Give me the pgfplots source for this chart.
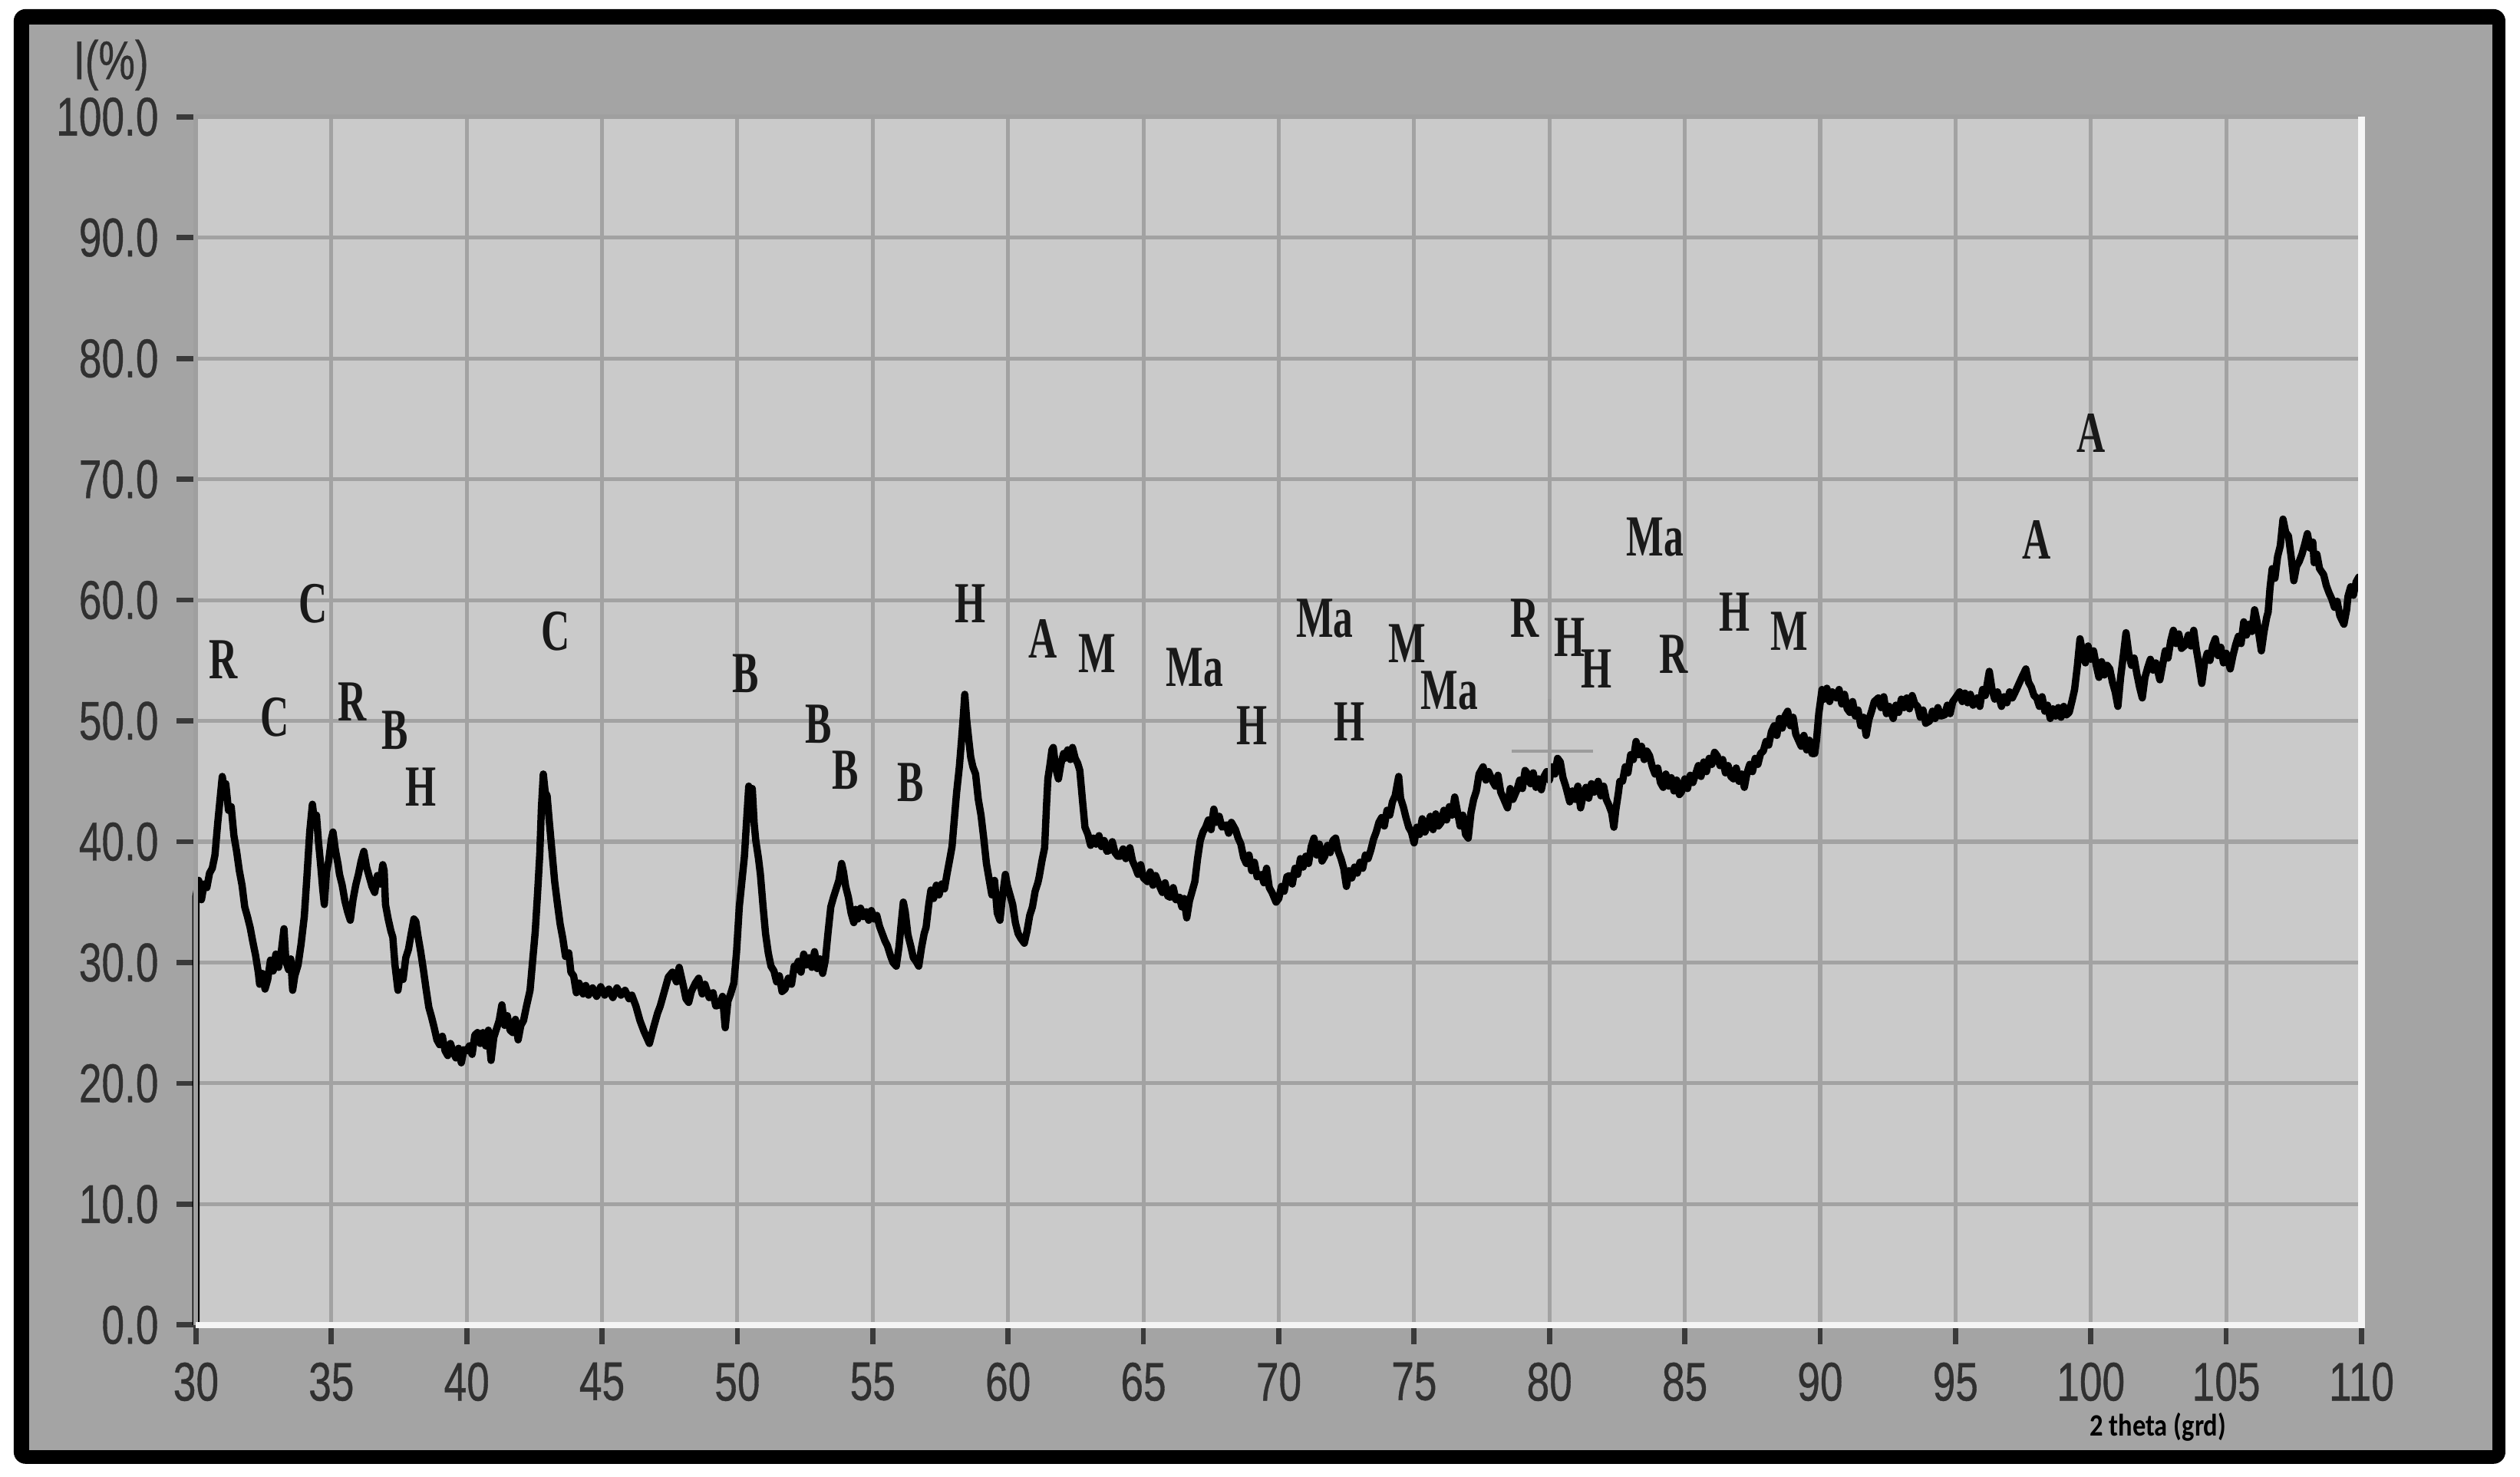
\documentclass[border=0pt]{standalone}
\usepackage{pgfplots}
\pgfplotsset{compat=1.18}
\usepackage{fontspec}
\setmainfont{Liberation Sans}
\newfontfamily\ticksfont[FakeStretch=0.75,FakeBold=0.5]{Liberation Sans}
\newfontfamily\peakfont[FakeStretch=0.68]{Liberation Serif}
\newfontfamily\captfont[FakeStretch=0.85]{Carlito}

\definecolor{framegray}{HTML}{A4A4A4}
\definecolor{plotgray}{HTML}{CACACA}
\definecolor{gridgray}{HTML}{A2A2A2}
\definecolor{tickgray}{HTML}{3A3A3A}
\definecolor{labelgray}{HTML}{303030}
\definecolor{crossgray}{HTML}{9C9C9C}

\newcommand{\pk}[3]{\node[font=\peakfont\bfseries\fontsize{11.2}{12}\selectfont, text=black!90, inner sep=0pt] at (axis cs:#1,#2) {#3};}

\begin{document}
\begin{tikzpicture}
% page, black frame and panel
\fill[white] (-1.327,-1.029) rectangle (15.733,8.971);
\fill[black, rounded corners=0.08cm] (-1.234,-0.940) rectangle (15.634,8.909);
\fill[framegray] (-1.130,-0.847) rectangle (15.545,8.805);

\begin{axis}[
    scale only axis,
    width=14.66cm, height=8.18cm,
    at={(0,0)}, anchor=south west,
    xmin=30, xmax=110, ymin=0, ymax=100,
    xtick={30,35,...,110}, ytick={0,10,...,100},
    grid=major,
    grid style={gridgray, line width=0.75pt},
    axis background/.style={fill=plotgray},
    axis line style={draw=none},
    tick pos=left,
    tick align=outside,
    major tick length=0.13cm,
    tick style={tickgray, line width=1pt},
    ticklabel style={font=\ticksfont\fontsize{10.5}{12}\selectfont, text=labelgray},
    /pgf/number format/assume math mode=true,
    yticklabel={\pgfmathprintnumber[fixed,fixed zerofill,precision=1]{\tick}},
    clip=false,
]
\addplot[black, line width=1.4pt, line join=round] coordinates {
(30,0) (30,35.5) (30.1,36.8) (30.2,35.2) (30.3,36.5) (30.4,36.2) (30.5,37.4) (30.6,37.8) (30.7,38.9) (30.8,41.5) (30.9,43.8) (30.97,45.4) (31.05,44.2) (31.1,44.8) (31.2,42.6) (31.3,42.9) (31.4,40.5) (31.5,39.2) (31.6,37.6) (31.7,36.4) (31.8,34.6) (31.9,33.8) (32.0,32.9) (32.1,31.7) (32.2,30.6) (32.3,29.2) (32.35,28.2) (32.45,29.1) (32.55,27.8) (32.65,28.6) (32.75,30.2) (32.85,29.3) (32.95,30.7) (33.05,29.6) (33.15,30.9) (33.25,32.8) (33.32,30.1) (33.42,29.4) (33.5,30.3) (33.57,27.7) (33.65,28.9) (33.77,29.8) (33.88,31.5) (34.0,33.8) (34.1,37.2) (34.2,40.8) (34.3,43.1) (34.38,41.6) (34.45,42.2) (34.52,40.1) (34.6,38.2) (34.68,36.1) (34.74,34.8) (34.82,37.5) (34.9,38.4) (35.0,40.2) (35.06,40.8) (35.15,39.3) (35.25,38.1) (35.3,37.3) (35.4,36.4) (35.5,35.1) (35.6,34.2) (35.7,33.5) (35.8,35.2) (35.9,36.4) (36.0,37.3) (36.1,38.4) (36.2,39.2) (36.3,37.9) (36.4,37.1) (36.5,36.3) (36.6,35.8) (36.7,37.2) (36.8,36.5) (36.9,38.1) (36.95,37.6) (37.0,34.8) (37.1,33.6) (37.2,32.6) (37.27,32.1) (37.35,29.8) (37.46,27.7) (37.55,29.2) (37.65,28.6) (37.75,30.4) (37.85,31.1) (37.95,32.4) (38.05,33.6) (38.12,33.4) (38.2,32.2) (38.3,30.9) (38.4,29.4) (38.5,27.8) (38.6,26.3) (38.7,25.5) (38.8,24.6) (38.9,23.6) (39.0,23.2) (39.1,23.9) (39.2,22.7) (39.3,22.3) (39.4,23.3) (39.5,22.6) (39.6,22.1) (39.7,22.9) (39.8,21.7) (39.9,22.8) (40.0,22.7) (40.1,23.1) (40.2,22.4) (40.3,24.0) (40.4,24.2) (40.5,23.3) (40.6,24.2) (40.7,23.1) (40.8,24.4) (40.9,21.9) (41.0,23.8) (41.1,24.5) (41.2,25.2) (41.3,26.5) (41.4,24.8) (41.5,25.6) (41.6,24.4) (41.7,24.2) (41.8,25.3) (41.9,23.6) (42.0,24.8) (42.1,25.2) (42.2,26.3) (42.34,27.7) (42.45,30.5) (42.53,32.5) (42.62,35.8) (42.7,39.0) (42.76,42.8) (42.83,45.6) (42.9,44.1) (42.97,43.8) (43.05,41.7) (43.15,39.2) (43.25,36.7) (43.35,34.9) (43.45,33.2) (43.55,32.0) (43.65,30.5) (43.77,30.8) (43.85,29.2) (43.95,28.9) (44.05,27.5) (44.15,28.3) (44.3,27.4) (44.4,28.1) (44.5,27.3) (44.65,27.9) (44.8,27.2) (44.95,28.0) (45.1,27.3) (45.25,27.8) (45.4,27.1) (45.55,27.9) (45.7,27.3) (45.85,27.7) (46.0,27.0) (46.1,27.3) (46.25,26.4) (46.4,25.2) (46.55,24.3) (46.75,23.3) (46.9,24.6) (47.05,25.8) (47.15,26.4) (47.3,27.6) (47.45,28.8) (47.6,29.2) (47.75,28.4) (47.85,29.6) (48.0,28.1) (48.1,27.0) (48.2,26.7) (48.3,27.6) (48.45,28.3) (48.57,28.7) (48.7,27.4) (48.8,28.2) (48.96,27.1) (49.1,27.5) (49.2,26.4) (49.35,26.5) (49.45,27.2) (49.55,24.6) (49.65,26.8) (49.75,27.4) (49.87,28.3) (49.97,30.9) (50.07,34.6)
(50.17,36.8) (50.26,38.8) (50.35,42.1) (50.42,44.6) (50.48,43.8) (50.55,44.4) (50.62,41.5) (50.68,40.1) (50.78,38.6) (50.85,37.3) (50.95,34.6) (51.04,32.4) (51.14,30.8) (51.24,29.7) (51.35,29.3) (51.45,28.4) (51.55,28.9) (51.65,27.6) (51.76,27.8) (51.88,28.7) (52.0,28.2) (52.1,29.7) (52.15,29.4) (52.25,30.1) (52.35,29.2) (52.45,30.7) (52.55,29.8) (52.65,30.4) (52.75,29.6) (52.85,30.9) (52.95,29.5) (53.05,30.3) (53.15,29.1) (53.25,30.2) (53.35,32.5) (53.45,34.6) (53.55,35.4) (53.65,36.1) (53.75,36.8) (53.85,38.2) (53.92,37.5) (54.0,36.3) (54.1,35.4) (54.2,34.1) (54.3,33.3) (54.37,34.4) (54.45,33.6) (54.55,34.5) (54.65,33.8) (54.76,34.2) (54.85,33.5) (54.95,34.3) (55.05,33.6) (55.15,33.9) (55.25,33.0) (55.35,32.4) (55.45,31.8) (55.54,31.4) (55.65,30.6) (55.75,30.0) (55.87,29.7) (55.97,31.3) (56.05,33.2) (56.13,35.0) (56.2,34.2) (56.3,32.3) (56.4,31.4) (56.5,30.4) (56.6,30.1) (56.7,29.7) (56.8,31.2) (56.9,32.4) (56.97,32.9) (57.07,34.8) (57.15,36.0) (57.25,35.3) (57.35,36.4) (57.45,35.6) (57.55,36.5) (57.65,36.1) (57.75,37.4) (57.85,38.6) (57.93,39.6) (58.02,42.0) (58.1,44.1) (58.2,46.2) (58.28,48.4) (58.35,50.5) (58.4,52.2) (58.47,50.1) (58.55,48.4) (58.62,47.0) (58.7,46.2) (58.8,45.6) (58.9,43.5) (59.0,42.2) (59.1,40.3) (59.2,38.2) (59.3,36.9) (59.4,35.6) (59.5,36.8) (59.6,34.1) (59.7,33.5) (59.8,35.6) (59.9,37.3) (59.97,36.4) (60.07,35.6) (60.17,34.8) (60.27,33.3) (60.37,32.4) (60.47,32.0) (60.6,31.6) (60.7,32.6) (60.8,33.9) (60.9,34.6) (61.0,35.9) (61.1,36.6) (61.15,37.1) (61.25,38.4) (61.35,39.5) (61.42,43.0) (61.47,45.2) (61.55,46.4) (61.62,47.6) (61.67,47.8) (61.76,46.1) (61.86,45.2) (61.95,46.4) (62.05,47.3) (62.1,46.9) (62.2,47.6) (62.3,46.8) (62.38,47.8) (62.48,46.9) (62.57,46.5) (62.65,45.9) (62.75,43.4) (62.84,41.2) (62.95,40.6) (63.05,39.7) (63.15,40.3) (63.25,39.8) (63.36,40.5) (63.45,39.6) (63.55,40.1) (63.65,39.2) (63.75,39.3) (63.85,40.0) (63.95,39.1) (64.05,38.8) (64.15,38.8) (64.25,39.4) (64.35,38.6) (64.5,39.5) (64.6,38.4) (64.7,37.9) (64.8,37.3) (64.9,38.1) (65.0,37.0) (65.15,36.7) (65.25,37.5) (65.35,36.4) (65.45,37.2) (65.6,36.3) (65.7,35.8) (65.8,36.6) (65.9,35.5) (66.0,35.4) (66.1,36.2) (66.2,35.2) (66.33,35.4) (66.42,34.6) (66.5,35.3) (66.6,33.7) (66.7,35.1) (66.8,35.9) (66.9,36.7) (67.0,38.6) (67.1,40.1) (67.2,40.8) (67.3,41.2) (67.4,41.8) (67.5,41.0) (67.6,42.7) (67.7,41.6) (67.8,42.1) (67.9,41.2) (68.06,41.4) (68.15,40.7) (68.25,41.6) (68.4,41.0) (68.5,40.3) (68.6,39.8) (68.7,38.7) (68.8,38.2) (68.9,38.9) (69.0,37.6) (69.1,38.3) (69.2,37.1) (69.36,37.3) (69.45,36.6) (69.55,37.8) (69.65,36.2) (69.75,35.8) (69.9,35.0)
(70.0,35.3) (70.1,36.3) (70.2,35.9) (70.3,37.1) (70.4,37.2) (70.5,36.5) (70.6,37.8) (70.7,37.3) (70.8,38.6) (70.9,37.9) (71.0,38.8) (71.1,38.2) (71.2,39.6) (71.3,40.3) (71.4,38.9) (71.5,39.8) (71.6,38.4) (71.7,38.8) (71.8,39.7) (71.9,39.1) (72.0,40.1) (72.1,40.3) (72.2,39.2) (72.3,38.6) (72.4,37.8) (72.5,36.3) (72.6,37.6) (72.7,37.0) (72.8,37.9) (72.9,37.4) (73.0,38.3) (73.1,37.8) (73.2,38.9) (73.3,38.6) (73.4,39.3) (73.5,40.2) (73.6,40.8) (73.7,41.6) (73.8,42.0) (73.9,41.3) (74.0,42.6) (74.1,42.2) (74.2,43.3) (74.3,43.8) (74.43,45.4) (74.5,43.6) (74.6,42.9) (74.7,42.0) (74.8,41.2) (74.9,40.8) (75.0,39.9) (75.1,41.2) (75.2,40.6) (75.3,41.9) (75.4,40.8) (75.5,41.4) (75.6,42.1) (75.7,41.0) (75.8,42.3) (75.9,41.3) (76.0,41.6) (76.1,42.6) (76.2,41.8) (76.3,42.9) (76.4,42.2) (76.5,43.7) (76.6,42.5) (76.7,41.3) (76.8,42.2) (76.9,40.6) (77.0,40.3) (77.1,42.4) (77.2,43.5) (77.3,44.2) (77.4,45.6) (77.55,46.2) (77.65,45.1) (77.75,45.8) (77.9,45.0) (78.0,44.6) (78.1,45.5) (78.2,44.1) (78.3,43.6) (78.45,42.8) (78.55,44.4) (78.65,43.5) (78.8,44.3) (78.9,45.1) (79.0,44.4) (79.1,45.9) (79.2,45.6) (79.3,44.8) (79.4,45.7) (79.5,44.5) (79.6,45.2) (79.7,44.3) (79.8,45.4) (79.9,45.8) (80.0,45.1) (80.1,46.2) (80.2,45.6) (80.3,46.9) (80.4,46.6) (80.5,45.3) (80.6,44.6) (80.75,43.3) (80.85,44.2) (80.95,43.5) (81.05,44.6) (81.15,42.8) (81.25,43.9) (81.35,44.5) (81.45,43.6) (81.55,44.8) (81.65,44.1) (81.8,45.0) (81.9,43.8) (82.0,44.6) (82.1,43.5) (82.2,43.0) (82.3,42.4) (82.38,41.2) (82.45,42.6) (82.55,44.1) (82.6,45.0) (82.7,45.0) (82.8,46.2) (82.9,45.7) (83.0,47.2) (83.1,46.8) (83.2,48.3) (83.3,47.2) (83.4,47.9) (83.5,46.8) (83.6,47.5) (83.7,47.1) (83.8,46.2) (83.9,45.6) (84.0,46.1) (84.1,44.9) (84.2,44.5) (84.3,45.6) (84.4,44.6) (84.5,45.3) (84.6,44.2) (84.7,45.1) (84.8,43.9) (84.87,44.1) (85.0,45.2) (85.1,44.4) (85.2,45.5) (85.3,44.9) (85.4,45.6) (85.5,46.3) (85.6,45.4) (85.7,46.6) (85.8,45.8) (85.9,46.9) (86.0,46.4) (86.1,47.4) (86.2,47.1) (86.3,46.3) (86.4,46.8) (86.5,45.7) (86.6,46.3) (86.7,45.4) (86.8,45.2) (86.9,46.1) (87.0,45.0) (87.1,45.6) (87.2,44.5) (87.3,45.7) (87.4,46.4) (87.5,45.8) (87.6,46.9) (87.7,46.4) (87.8,47.3) (87.9,47.5) (88.0,48.3) (88.1,48.0) (88.2,49.1) (88.3,49.6) (88.4,48.8) (88.5,50.2) (88.6,49.4) (88.7,50.4) (88.8,50.8) (88.9,49.6) (89.0,50.3) (89.1,48.9) (89.2,48.4) (89.3,47.9) (89.4,48.8) (89.5,47.6) (89.6,48.4) (89.7,47.3) (89.8,47.3) (89.87,48.5)
(89.95,50.6) (90.07,52.6) (90.15,51.8) (90.25,52.7) (90.35,51.6) (90.45,52.4) (90.6,51.9) (90.7,52.6) (90.8,51.4) (90.9,52.2) (91.0,51.0) (91.1,50.7) (91.2,51.6) (91.3,50.4) (91.4,50.9) (91.5,49.6) (91.6,50.3) (91.7,48.8) (91.8,50.1) (91.9,50.8) (92.0,51.6) (92.15,51.9) (92.25,51.1) (92.35,52.0) (92.45,50.6) (92.55,51.2) (92.7,50.2) (92.8,51.3) (92.9,50.7) (93.0,51.8) (93.1,51.1) (93.2,51.9) (93.3,51.0) (93.4,52.1) (93.5,51.4) (93.6,51.2) (93.7,50.3) (93.8,50.9) (93.9,49.8) (94.05,50.0) (94.15,50.8) (94.25,50.2) (94.35,51.1) (94.45,50.4) (94.6,50.5) (94.7,51.3) (94.8,50.6) (94.9,51.6) (95.0,51.9) (95.15,52.4) (95.25,51.6) (95.35,52.3) (95.45,51.5) (95.55,52.2) (95.65,51.3) (95.8,51.9) (95.9,51.2) (96.0,52.6) (96.1,52.1) (96.25,54.1) (96.35,52.6) (96.45,51.8) (96.55,52.4) (96.7,51.2) (96.8,52.0) (96.9,51.5) (97.0,52.4) (97.1,51.9) (97.25,52.6) (97.35,53.1) (97.45,53.6) (97.6,54.3) (97.7,53.2) (97.8,52.8) (97.9,52.1) (98.0,51.9) (98.1,51.2) (98.2,52.0) (98.3,50.8) (98.4,51.3) (98.5,50.2) (98.6,51.0) (98.7,50.4) (98.8,51.1) (98.9,50.3) (99.0,51.2) (99.1,50.5) (99.2,50.7) (99.3,51.6) (99.4,52.6) (99.5,54.5) (99.6,56.8) (99.7,55.6) (99.8,54.8) (99.9,56.2) (100.0,55.1) (100.1,55.8) (100.2,54.6) (100.3,53.6) (100.4,54.9) (100.5,53.8) (100.6,54.6) (100.7,54.3) (100.8,53.2) (100.9,52.4) (101.0,51.2) (101.1,53.6) (101.2,55.4) (101.3,57.3) (101.4,55.6) (101.5,54.6) (101.6,55.2) (101.7,53.9) (101.8,52.8) (101.9,51.9) (102.0,53.6) (102.1,54.4) (102.2,55.1) (102.3,54.2) (102.4,54.8) (102.55,53.4) (102.65,54.6) (102.75,55.8) (102.85,55.2) (102.95,56.6) (103.05,57.5) (103.15,56.4) (103.25,57.2) (103.35,56.0) (103.5,56.3) (103.6,57.1) (103.7,56.2) (103.8,57.5) (103.9,55.9) (104.0,54.6) (104.1,53.1) (104.2,54.8) (104.3,55.6) (104.4,55.0) (104.5,56.2) (104.6,56.8) (104.7,55.4) (104.8,56.1) (104.9,54.8) (105.0,55.6) (105.15,54.3) (105.25,55.4) (105.35,56.3) (105.45,57.0) (105.55,56.4) (105.65,58.2) (105.75,57.1) (105.85,58.0) (105.95,57.4) (106.05,59.2) (106.15,58.1) (106.22,57.0) (106.3,55.8) (106.4,57.4) (106.5,58.6) (106.55,59.0) (106.62,61.0) (106.7,62.6) (106.8,61.8) (106.9,63.6) (107.0,64.5) (107.1,66.7) (107.2,65.6) (107.3,65.3) (107.4,63.6) (107.5,61.6) (107.6,62.8) (107.7,63.2) (107.8,63.8) (107.9,64.6) (108.0,65.5) (108.1,64.3) (108.2,64.8) (108.25,63.1) (108.35,63.8) (108.45,62.6) (108.6,62.1) (108.7,61.2) (108.8,60.6) (108.9,60.1) (109.0,59.4) (109.1,59.9) (109.2,58.7) (109.35,58.0) (109.45,59.2) (109.5,60.3) (109.6,61.1) (109.7,60.4) (109.8,61.5) (109.9,61.9) (110.0,61.2)
};
% cursor cross near 80
\addplot[crossgray, line width=0.6pt] coordinates {(80,44.2) (80,51.8)};
\addplot[crossgray, line width=0.6pt] coordinates {(78.6,47.5) (81.6,47.5)};

% phase labels
\pk{31.0}{55.05}{R}
\pk{32.9}{50.3}{C}
\pk{34.33}{59.7}{C}
\pk{35.76}{51.6}{R}
\pk{37.36}{49.2}{B}
\pk{38.3}{44.5}{H}
\pk{43.3}{57.4}{C}
\pk{50.3}{53.9}{B}
\pk{53.0}{49.7}{B}
\pk{53.98}{45.9}{B}
\pk{56.4}{44.9}{B}
\pk{58.6}{59.7}{H}
\pk{61.28}{56.8}{A}
\pk{63.3}{55.6}{M}
\pk{66.9}{54.4}{Ma}
\pk{69.0}{49.6}{H}
\pk{71.7}{58.5}{Ma}
\pk{72.6}{49.9}{H}
\pk{74.75}{56.4}{M}
\pk{76.3}{52.5}{Ma}
\pk{79.1}{58.5}{R}
\pk{80.74}{56.9}{H}
\pk{81.75}{54.3}{H}
\pk{83.9}{65.2}{Ma}
\pk{84.6}{55.5}{R}
\pk{86.85}{59.0}{H}
\pk{88.87}{57.4}{M}
\pk{98.0}{65.0}{A}
\pk{100.0}{73.8}{A}

\node[font=\ticksfont\fontsize{10.5}{12}\selectfont, text=labelgray] at (axis description cs:-0.0392,1.0428) {I(\%)};
\node[font=\captfont\bfseries\fontsize{6}{7}\selectfont, text=black] at (axis description cs:0.906,-0.0845) {2 theta (grd)};
\end{axis}
% bevelled edge of the plot panel
\draw[gray!75!black!60, line width=0.9pt] (0,0) -- (0,8.18) -- (14.66,8.18);
\draw[white!92!gray, line width=1.2pt] (0,0) -- (14.66,0) -- (14.66,8.18);
\end{tikzpicture}
\end{document}
